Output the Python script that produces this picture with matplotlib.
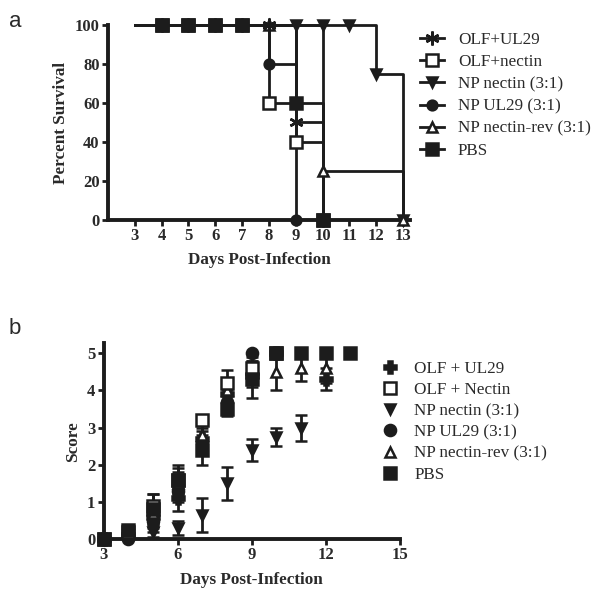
import matplotlib
matplotlib.use("Agg")
import matplotlib.pyplot as plt
from matplotlib.lines import Line2D

# ---- panel a: survival (step data, day -> percent) ----
surv_labels = ["OLF+UL29", "OLF+nectin", "NP nectin (3:1)", "NP UL29 (3:1)",
               "NP nectin-rev (3:1)", "PBS"]
surv_days = [
    [3, 4, 5, 6, 7, 8, 9, 10],
    [3, 4, 5, 6, 7, 8, 9, 10],
    [3, 4, 5, 6, 7, 8, 9, 10, 11, 12, 13],
    [3, 4, 5, 6, 7, 8, 9],
    [3, 4, 5, 6, 7, 8, 9, 10, 13],
    [3, 4, 5, 6, 7, 8, 9, 10],
]
surv_vals = [
    [100, 100, 100, 100, 100, 100, 50, 0],
    [100, 100, 100, 100, 100, 60, 40, 0],
    [100, 100, 100, 100, 100, 100, 100, 100, 100, 75, 0],
    [100, 100, 100, 100, 100, 80, 0],
    [100, 100, 100, 100, 100, 100, 100, 25, 0],
    [100, 100, 100, 100, 100, 100, 60, 0],
]
# days on which a symbol is drawn for each group
surv_marked = [
    [4, 5, 6, 7, 8, 9, 10],
    [4, 5, 6, 7, 8, 9, 10],
    [9, 10, 11, 12, 13],
    [4, 5, 6, 7, 8, 9],
    [8, 10, 13],
    [4, 5, 6, 7, 9, 10],
]

# ---- panel b: clinical score mean +/- error ----
score_labels = ["OLF + UL29", "OLF + Nectin", "NP nectin (3:1)", "NP UL29 (3:1)",
                "NP nectin-rev (3:1)", "PBS"]
score_days = [
    [3, 4, 5, 6, 7, 8, 9, 10, 12],
    [3, 4, 5, 6, 7, 8, 9, 10],
    [3, 4, 5, 6, 7, 8, 9, 10, 11],
    [3, 4, 5, 6, 7, 8, 9],
    [3, 4, 5, 6, 7, 8, 9, 10, 11, 12],
    [3, 4, 5, 6, 7, 8, 9, 10, 11, 12, 13],
]
score_vals = [
    [0, 0.1, 0.6, 1.1, 2.7, 3.9, 4.4, 5.0, 4.3],
    [0, 0.2, 0.9, 1.6, 3.2, 4.2, 4.6, 5.0],
    [0, 0.1, 0.2, 0.3, 0.65, 1.5, 2.4, 2.75, 3.0],
    [0, 0.0, 0.5, 1.3, 2.6, 3.7, 5.0],
    [0, 0.2, 0.7, 1.5, 2.8, 4.0, 4.5, 4.5, 4.6, 4.6],
    [0, 0.25, 0.8, 1.6, 2.4, 3.5, 4.3, 5.0, 5.0, 5.0, 5.0],
]
score_err = [
    [0, 0.1, 0.3, 0.35, 0.3, 0.3, 0.3, 0, 0.3],
    [0, 0.1, 0.3, 0.3, 0.1, 0.35, 0.3, 0],
    [0, 0.05, 0.15, 0.2, 0.45, 0.45, 0.3, 0.25, 0.35],
    [0, 0.0, 0.3, 0.3, 0.3, 0.3, 0],
    [0, 0.1, 0.3, 0.3, 0.3, 0.3, 0.3, 0.5, 0.35, 0.4],
    [0, 0.1, 0.4, 0.4, 0.4, 0.2, 0.5, 0, 0, 0, 0],
]

ink = "#1c1c1c"
txt = "#2a2a2a"
serif = "Liberation Serif"

# marker styles: (marker, size, filled)
surv_mk = [((6, 2, 0), 10, True), ("s", 8, False), ("v", 6.5, True),
           ("o", 7, True), ("^", 7.5, False), ("s", 8, True)]
score_mk = [("P", 8, True), ("s", 8, False), ("v", 7, True),
            ("o", 8, True), ("^", 7.5, False), ("s", 8.5, True)]

fig = plt.figure(figsize=(6, 5.99), dpi=100)


def style_axes(ax):
    for s in ["top", "right"]:
        ax.spines[s].set_visible(False)
    for s in ["left", "bottom"]:
        ax.spines[s].set_linewidth(2.8)
        ax.spines[s].set_color(ink)
    ax.tick_params(direction="out", length=4, width=2, color=ink, pad=2)
    for lab in ax.get_xticklabels() + ax.get_yticklabels():
        lab.set_fontfamily(serif)
        lab.set_fontweight("bold")
        lab.set_fontsize(12)
        lab.set_color(txt)


# ---------------- panel a ----------------
ax1 = fig.add_axes([0.18, 0.633, 0.503, 0.325])
handles_a = []
order = [2, 4, 3, 1, 5, 0]
for i in order:
    m, ms, filled = surv_mk[i]
    d, v = surv_days[i], surv_vals[i]
    ax1.step(d, v, where="post", color=ink, lw=2, zorder=2, clip_on=False)
    md = [x for x in d if x in surv_marked[i]]
    mv = [y for x, y in zip(d, v) if x in surv_marked[i]]
    ax1.plot(md, mv, ls="none", marker=m, ms=ms, mec=ink, mew=1.8,
             mfc=ink if filled else "white", zorder=3, clip_on=False)
for i in range(6):
    m, ms, filled = surv_mk[i]
    handles_a.append(Line2D([], [], color=ink, lw=2, marker=m, ms=ms, mec=ink,
                            mew=1.8, mfc=ink if filled else "white"))
ax1.set_xlim(2, 13.25)
ax1.set_ylim(0, 100)
ax1.set_xticks(range(3, 14))
ax1.set_yticks(range(0, 101, 20))
style_axes(ax1)
ax1.set_xlabel("Days Post-Infection", fontfamily=serif, fontweight="bold",
               fontsize=12.3, color=txt, labelpad=6)
ax1.set_ylabel("Percent Survival", fontfamily=serif, fontweight="bold",
               fontsize=12.3, color=txt, labelpad=4)
fig.legend(handles_a, surv_labels, loc="upper left",
           bbox_to_anchor=(0.675, 0.972), frameon=False, handlelength=1.4,
           handletextpad=0.8, labelspacing=0.36,
           prop={"family": serif, "size": 12.3}, labelcolor=txt)

# ---------------- panel b ----------------
ax2 = fig.add_axes([0.173, 0.1, 0.493, 0.327])
handles_b = []
order_b = [2, 3, 0, 4, 1, 5]
for i in order_b:
    m, ms, filled = score_mk[i]
    ax2.errorbar(score_days[i], score_vals[i], yerr=score_err[i], fmt=m, ms=ms,
                 color=ink, mec=ink, mew=1.8, mfc=ink if filled else "white",
                 ecolor=ink, elinewidth=2, capsize=4, capthick=2, zorder=3,
                 clip_on=False)
for i in range(6):
    m, ms, filled = score_mk[i]
    handles_b.append(Line2D([], [], ls="none", marker=m, ms=ms, mec=ink,
                            mew=1.8, mfc=ink if filled else "white"))
ax2.set_xlim(3, 15)
ax2.set_ylim(0, 5.27)
ax2.set_xticks([3, 6, 9, 12, 15])
ax2.set_yticks(range(0, 6))
style_axes(ax2)
ax2.set_xlabel("Days Post-Infection", fontfamily=serif, fontweight="bold",
               fontsize=12.3, color=txt, labelpad=6)
ax2.set_ylabel("Score", fontfamily=serif, fontweight="bold",
               fontsize=12.3, color=txt, labelpad=4)
fig.legend(handles_b, score_labels, loc="upper left",
           bbox_to_anchor=(0.611, 0.423), frameon=False, handlelength=0.9,
           handletextpad=1.0, labelspacing=0.3,
           prop={"family": serif, "size": 12.3}, labelcolor=txt)

fig.text(0.015, 0.955, "a", fontsize=16, fontfamily="Liberation Sans", color=txt)
fig.text(0.015, 0.443, "b", fontsize=16, fontfamily="Liberation Sans", color=txt)

fig.savefig("out.png", dpi=100, facecolor="white")
